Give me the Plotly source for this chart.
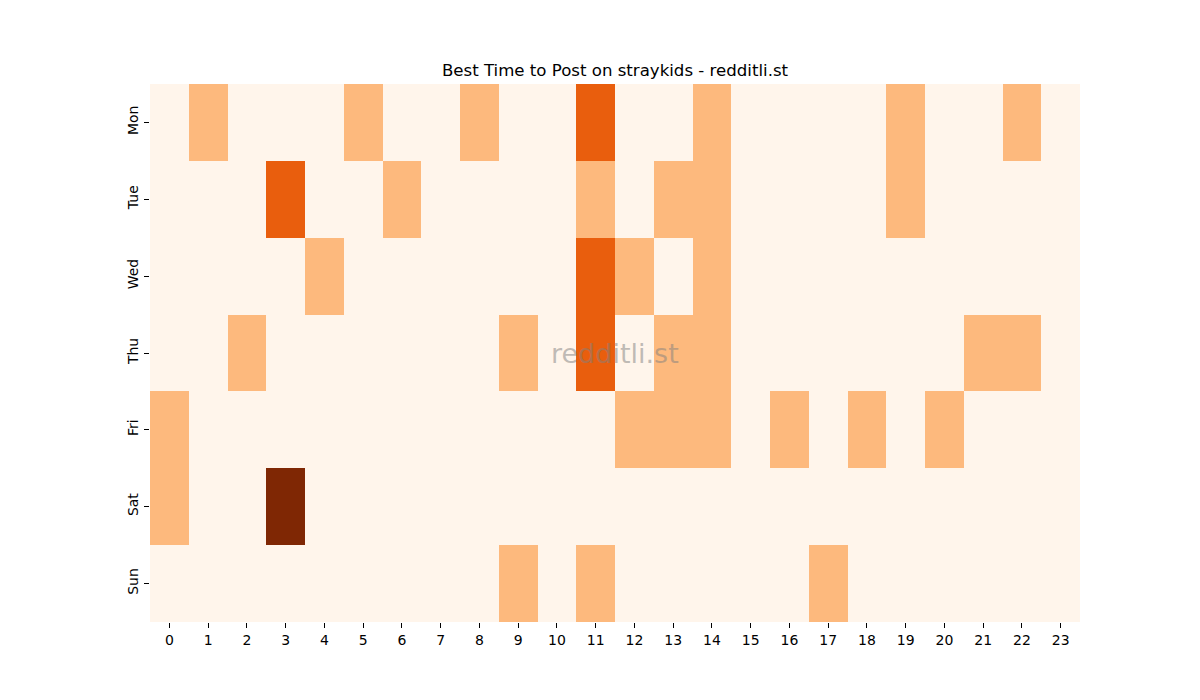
import plotly.graph_objects as go

days = ["Mon", "Tue", "Wed", "Thu", "Fri", "Sat", "Sun"]
hours = list(range(24))

mon = [0,1,0,0,0,1,0,0,1,0,0,2,0,0,1,0,0,0,0,1,0,0,1,0]
tue = [0,0,0,2,0,0,1,0,0,0,0,1,0,1,1,0,0,0,0,1,0,0,0,0]
wed = [0,0,0,0,1,0,0,0,0,0,0,2,1,0,1,0,0,0,0,0,0,0,0,0]
thu = [0,0,1,0,0,0,0,0,0,1,0,2,0,1,1,0,0,0,0,0,0,1,1,0]
fri = [1,0,0,0,0,0,0,0,0,0,0,0,1,1,1,0,1,0,1,0,1,0,0,0]
sat = [1,0,0,3,0,0,0,0,0,0,0,0,0,0,0,0,0,0,0,0,0,0,0,0]
sun = [0,0,0,0,0,0,0,0,0,1,0,1,0,0,0,0,0,1,0,0,0,0,0,0]

z = [mon, tue, wed, thu, fri, sat, sun]

colorscale = [
    [0.0, "#fff5eb"],
    [1/3, "#fdb97d"],
    [2/3, "#e95e0d"],
    [1.0, "#7f2704"],
]

fig = go.Figure(go.Heatmap(
    z=z, x=hours, y=days,
    colorscale=colorscale, zmin=0, zmax=3,
    showscale=False, xgap=0, ygap=0,
    hoverongaps=False,
))

font = "DejaVu Sans"
fig.update_layout(
    width=1200, height=700,
    margin=dict(l=142, r=128, t=76, b=86),
    paper_bgcolor="white", plot_bgcolor="white",
    font=dict(family=font, size=14, color="black"),
    title=dict(text="Best Time to Post on straykids - redditli.st",
               x=(615 - 8) / 1200, xanchor="center", y=1 - 62/700, yanchor="middle",
               font=dict(family=font, size=16.6, color="black")),
    xaxis=dict(tickmode="array", tickvals=hours, ticktext=[str(h) for h in hours],
               ticks="outside", ticklen=5, tickcolor="black", showgrid=False,
               zeroline=False, showline=False, range=[-0.5, 23.5],
               tickfont=dict(family=font, size=14)),
    yaxis=dict(autorange="reversed", ticks="outside", ticklen=5, tickcolor="black",
               tickangle=-90, showgrid=False, zeroline=False, showline=False,
               tickfont=dict(family=font, size=14)),
    annotations=[dict(text="redditli.st", xref="paper", yref="paper", x=0.5, y=0.5,
                      xanchor="center", yanchor="middle", showarrow=False,
                      font=dict(family=font, size=27, color="rgba(128,128,128,0.5)"))],
)

fig.write_html("out.html")
